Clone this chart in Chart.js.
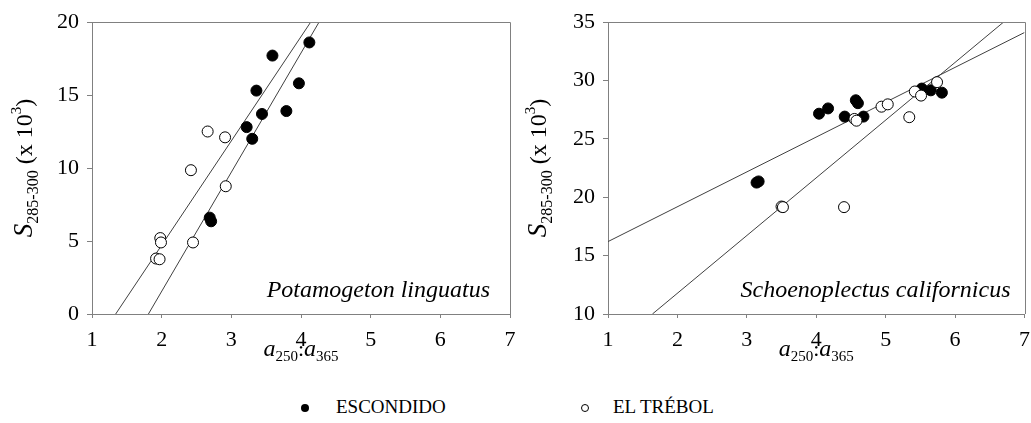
<!DOCTYPE html>
<html>
<head>
<meta charset="utf-8">
<script src="https://cdn.jsdelivr.net/npm/chart.js@4.4.0/dist/chart.umd.min.js"></script>
<style>
  body { margin: 0; background: #fff; width: 1031px; height: 423px; position: relative; overflow: hidden; font-family: "Liberation Serif", "Times New Roman", serif; }
  #c1 { position: absolute; left: 0; top: 0; }
  #c2 { position: absolute; left: 514px; top: 0; }
  #legend { position: absolute; top: 396px; left: 0; width: 1031px; height: 26px; font-size: 19px; color: #000; }
  .item { position: absolute; top: 0; white-space: nowrap; }
  .dot { position: absolute; top: 8px; width: 8px; height: 8px; border-radius: 50%; box-sizing: border-box; }
</style>
</head>
<body>
<canvas id="c1" width="520" height="380"></canvas>
<canvas id="c2" width="517" height="380"></canvas>
<div id="legend">
  <span class="dot" style="left:301px;background:#000;"></span>
  <span class="item" style="left:336px;">ESCONDIDO</span>
  <span class="dot" style="left:581px;border:1px solid #000;background:#fff;"></span>
  <span class="item" style="left:613px;">EL TRÉBOL</span>
</div>
<script>
// Potamogeton linguatus
var potEscX = [4.12, 3.59, 3.97, 3.36, 3.44, 3.79, 3.22, 3.30, 2.69, 2.71];
var potEscY = [18.6, 17.7, 15.8, 15.3, 13.7, 13.9, 12.8, 12.0, 6.6, 6.35];
var potTreX = [2.66, 2.91, 2.42, 2.92, 2.45, 1.98, 1.99, 1.92, 1.97];
var potTreY = [12.5, 12.1, 9.85, 8.75, 4.9, 5.2, 4.9, 3.8, 3.75];
var potLine1X = [1.34, 4.14], potLine1Y = [0, 20];
var potLine2X = [1.81, 4.26], potLine2Y = [0, 20];

// Schoenoplectus californicus
var schEscX = [3.14, 3.17, 4.04, 4.17, 4.57, 4.60, 4.41, 4.68, 5.52, 5.65, 5.81];
var schEscY = [21.25, 21.35, 27.15, 27.6, 28.3, 28.05, 26.9, 26.9, 29.3, 29.15, 28.95];
var schTreX = [3.50, 3.52, 4.40, 4.55, 4.58, 4.94, 5.03, 5.34, 5.42, 5.51, 5.74];
var schTreY = [19.2, 19.15, 19.15, 26.7, 26.55, 27.75, 27.95, 26.85, 29.05, 28.7, 29.85];
var schLine1X = [1, 7], schLine1Y = [16.2, 34.1];
var schLine2X = [1.64, 6.70], schLine2Y = [10, 35];

var xTicks = [1, 2, 3, 4, 5, 6, 7];

function pts(xs, ys) {
  var out = [];
  for (var i in xs) out.push({x: xs[i], y: ys[i]});
  return out;
}

var SERIF = '"Liberation Serif", "Times New Roman", serif';

// draws a list of text parts (with sub/superscripts) centred on cx
function drawRich(ctx, parts, cx, baseY) {
  var w = 0;
  parts.forEach(function(p) { ctx.font = p.f; w += ctx.measureText(p.t).width; });
  var x = cx - w / 2;
  ctx.textAlign = 'left';
  ctx.textBaseline = 'alphabetic';
  parts.forEach(function(p) {
    ctx.font = p.f;
    ctx.fillText(p.t, x, baseY + (p.dy || 0));
    x += ctx.measureText(p.t).width;
  });
}

var yTitle = [
  {t: 'S', f: 'italic 27px ' + SERIF},
  {t: '285-300', f: '16px ' + SERIF, dy: 6},
  {t: ' (x 10', f: '24px ' + SERIF},
  {t: '3', f: '15px ' + SERIF, dy: -11},
  {t: ')', f: '24px ' + SERIF}
];
var xTitle = [
  {t: 'a', f: 'italic 24px ' + SERIF},
  {t: '250', f: '15px ' + SERIF, dy: 5},
  {t: ':', f: '22px ' + SERIF},
  {t: 'a', f: 'italic 24px ' + SERIF},
  {t: '365', f: '15px ' + SERIF, dy: 5}
];

var deco = {
  id: 'deco',
  afterDraw: function(chart, args, opts) {
    var ctx = chart.ctx, a = chart.chartArea;
    ctx.save();
    ctx.strokeStyle = '#808080';
    ctx.lineWidth = 1;
    ctx.beginPath();
    ctx.moveTo(a.left, Math.round(a.top) + 0.5);
    ctx.lineTo(Math.round(a.right) + 0.5, Math.round(a.top) + 0.5);
    ctx.lineTo(Math.round(a.right) + 0.5, a.bottom);
    ctx.stroke();

    ctx.fillStyle = '#000';
    ctx.font = 'italic 24px ' + SERIF;
    ctx.textAlign = 'right';
    ctx.textBaseline = 'alphabetic';
    ctx.fillText(opts.species, a.right - opts.specPad, a.bottom - 17);

    drawRich(ctx, xTitle, (a.left + a.right) / 2, 356);

    ctx.translate(32, (a.top + a.bottom) / 2);
    ctx.rotate(-Math.PI / 2);
    drawRich(ctx, yTitle, 0, 0);
    ctx.restore();
  }
};

function makeChart(id, esc, tre, l1, l2, ymin, ymax, species, yw, specPad, padRight) {
  var lineStyle = {showLine: true, borderColor: '#404040', borderWidth: 1, pointRadius: 0, fill: false};
  return new Chart(document.getElementById(id), {
    type: 'scatter',
    data: {
      datasets: [
        {label: 'EL TRÉBOL', data: tre, pointRadius: 5.5, pointBackgroundColor: '#fff', pointBorderColor: '#000', pointBorderWidth: 1},
        {label: 'ESCONDIDO', data: esc, pointRadius: 5.5, pointBackgroundColor: '#000', pointBorderColor: '#000', pointBorderWidth: 1},
        Object.assign({label: 'fit1', data: l1}, lineStyle),
        Object.assign({label: 'fit2', data: l2}, lineStyle)
      ]
    },
    options: {
      responsive: false,
      animation: false,
      layout: {padding: {top: 22, right: padRight, left: 0, bottom: 0}},
      plugins: {
        legend: {display: false},
        tooltip: {enabled: false},
        deco: {species: species, specPad: specPad}
      },
      scales: {
        x: {
          type: 'linear', min: 1, max: 7,
          afterBuildTicks: function(s) { s.ticks = xTicks.map(function(v) { return {value: v}; }); },
          afterFit: function(s) { s.height = 66; s.paddingLeft = 0; s.paddingRight = 0; },
          grid: {drawOnChartArea: false, tickLength: 4, color: '#808080'},
          border: {color: '#808080'},
          ticks: {color: '#000', padding: 9, font: {family: SERIF, size: 22}, maxRotation: 0}
        },
        y: {
          type: 'linear', min: ymin, max: ymax,
          ticks: {stepSize: 5, color: '#000', padding: 8, font: {family: SERIF, size: 22}},
          afterFit: function(s) { s.width = yw; s.paddingTop = 0; s.paddingBottom = 0; },
          grid: {drawOnChartArea: false, tickLength: 5, color: '#808080'},
          border: {color: '#808080'}
        }
      }
    },
    plugins: [deco]
  });
}

makeChart('c1', pts(potEscX, potEscY), pts(potTreX, potTreY),
  pts(potLine1X, potLine1Y), pts(potLine2X, potLine2Y), 0, 20, 'Potamogeton linguatus', 92, 20, 10);
makeChart('c2', pts(schEscX, schEscY), pts(schTreX, schTreY),
  pts(schLine1X, schLine1Y), pts(schLine2X, schLine2Y), 10, 35, 'Schoenoplectus californicus', 94, 14, 5);
</script>
</body>
</html>
